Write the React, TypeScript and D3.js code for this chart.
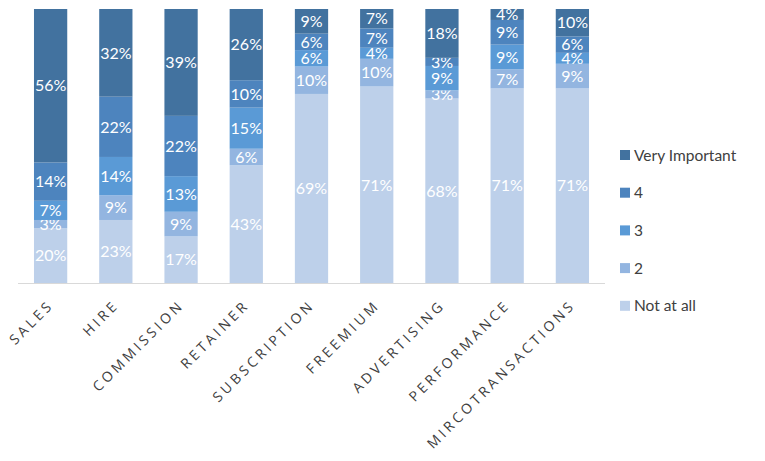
import React from "react";
import * as d3 from "d3";

const categories = ["SALES", "HIRE", "COMMISSION", "RETAINER", "SUBSCRIPTION", "FREEMIUM", "ADVERTISING", "PERFORMANCE", "MIRCOTRANSACTIONS"];
const seriesNames = ["Not at all", "2", "3", "4", "Very Important"];
const notAtAll = [20, 23, 17, 43, 69, 71, 68, 71, 71];
const two = [3, 9, 9, 6, 10, 10, 3, 7, 9];
const three = [7, 14, 13, 15, 6, 4, 9, 9, 4];
const four = [14, 22, 22, 10, 6, 7, 3, 9, 6];
const veryImportant = [56, 32, 39, 26, 9, 7, 18, 4, 10];
const colors = ["#bdd0ea", "#93b5e0", "#5a9ad6", "#4d84be", "#42729f"];

const W = 765, H = 461;
const margin = { left: 18, right: 160, top: 9, bottom: 178 };

export default function App() {
  const seriesValues = [notAtAll, two, three, four, veryImportant];
  const rows = categories.map((c, i) => {
    const r: any = { cat: c };
    seriesNames.forEach((s, k) => (r[s] = seriesValues[k][i]));
    return r;
  });
  const stack = d3.stack<any>().keys(seriesNames).offset(d3.stackOffsetExpand);
  const layers = stack(rows);

  const x = d3.scaleBand().domain(categories).range([margin.left, W - margin.right]).paddingInner(0.49).paddingOuter(0.245);
  const y = d3.scaleLinear().domain([0, 1]).range([H - margin.bottom, margin.top]);
  const baseY = H - margin.bottom;

  return (
    <svg width={W} height={H} style={{ position: "absolute", left: 0, top: 0 }}>
      <rect width={W} height={H} fill="#fff" />
      {layers.map((layer, k) => (
        <g key={layer.key}>
          {layer.map((d, i) => {
            const x0 = x(categories[i])!;
            const y1 = y(d[1]);
            const y0 = y(d[0]);
            return (
              <g key={i}>
                <rect x={x0} y={y1} width={x.bandwidth()} height={y0 - y1} fill={colors[k]} />
                <text
                  x={x0 + x.bandwidth() / 2}
                  y={(y0 + y1) / 2}
                  dy="0.36em"
                  textAnchor="middle"
                  fill="#fff"
                  fontFamily="Lato, 'Open Sans', sans-serif"
                  fontSize={16}
                >
                  {seriesValues[k][i]}%
                </text>
              </g>
            );
          })}
        </g>
      ))}
      <line x1={margin.left} x2={W - margin.right} y1={baseY + 0.5} y2={baseY + 0.5} stroke="#d9d9d9" strokeWidth={1} />
      {categories.map((c) => {
        const cx = x(c)! + x.bandwidth() / 2 + 4;
        return (
          <text
            key={c}
            transform={`translate(${cx},${baseY + 23}) rotate(-45)`}
            textAnchor="end"
            fill="#404040"
            fontFamily="'Open Sans', sans-serif"
            fontSize={14}
            letterSpacing={3.3}
          >
            {c}
          </text>
        );
      })}
      {seriesNames.slice().reverse().map((s, j) => {
        const k = seriesNames.length - 1 - j;
        const ly = 155 + j * 37.7;
        return (
          <g key={s}>
            <rect x={620} y={ly - 5} width={10} height={10} fill={colors[k]} />
            <text x={634} y={ly} dy="0.36em" fill="#404040" fontFamily="Lato, 'Open Sans', sans-serif" fontSize={15.5}>
              {s}
            </text>
          </g>
        );
      })}
    </svg>
  );
}
